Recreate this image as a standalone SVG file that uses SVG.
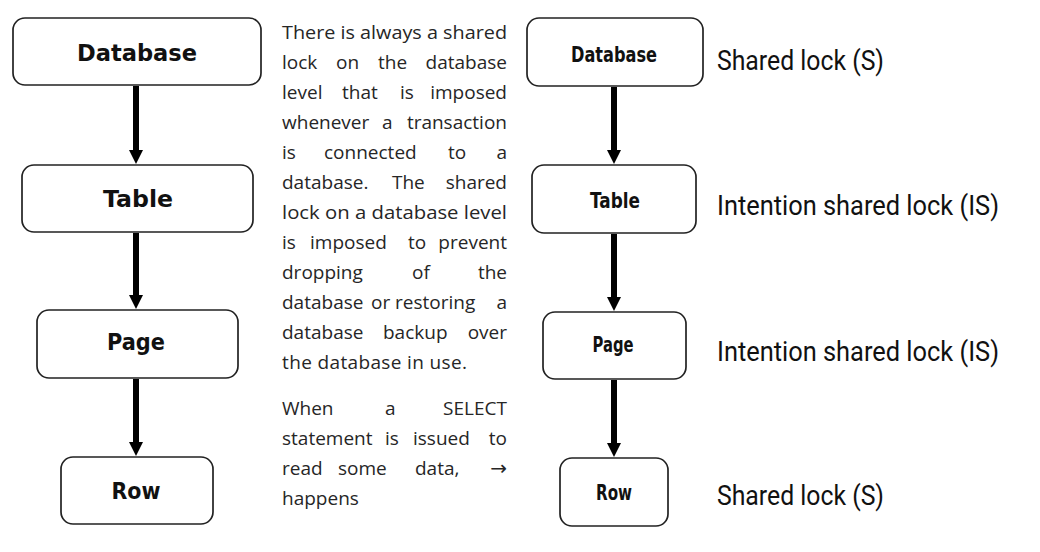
<svg xmlns="http://www.w3.org/2000/svg" width="1040" height="552" viewBox="0 0 1040 552">
<style>
.box{fill:#fff;stroke:#222;stroke-width:1.7}
.lbl{font-family:"DejaVu Sans",sans-serif;font-weight:bold;font-size:23px;fill:#111;text-anchor:middle}
.lbl2{font-family:"DejaVu Sans",sans-serif;font-weight:bold;font-size:22px;fill:#111;text-anchor:middle}
.lock{font-family:Roboto,"DejaVu Sans",sans-serif;font-size:28px;fill:#111}
.para{font-family:"Open Sans",sans-serif;font-size:19px;fill:#262626}
.arr{font-family:"DejaVu Sans",sans-serif;font-size:20px}
.conn{stroke:#000;stroke-width:6;fill:none}
.head{fill:#000}
</style>
<g id="connectors">
<line class="conn" x1="136" y1="86" x2="136" y2="151"/>
<path class="head" d="M129,150 L143,150 L136,164 Z"/>
<line class="conn" x1="136" y1="233" x2="136" y2="296"/>
<path class="head" d="M129,295 L143,295 L136,309 Z"/>
<line class="conn" x1="136" y1="379" x2="136" y2="443"/>
<path class="head" d="M129,442 L143,442 L136,456 Z"/>
<line class="conn" x1="614" y1="87" x2="614" y2="151"/>
<path class="head" d="M607,150 L621,150 L614,164 Z"/>
<line class="conn" x1="614" y1="234" x2="614" y2="298"/>
<path class="head" d="M607,297 L621,297 L614,311 Z"/>
<line class="conn" x1="614" y1="380" x2="614" y2="444"/>
<path class="head" d="M607,443 L621,443 L614,457 Z"/>
</g>
<g id="l-database"><rect class="box" x="13" y="18" width="248" height="67" rx="12"/><text class="lbl" x="137" y="61" textLength="120" lengthAdjust="spacingAndGlyphs">Database</text></g>
<g id="l-table"><rect class="box" x="22" y="165" width="231" height="67" rx="12"/><text class="lbl" x="138" y="207" textLength="70" lengthAdjust="spacingAndGlyphs">Table</text></g>
<g id="l-page"><rect class="box" x="37" y="310" width="201" height="68" rx="12"/><text class="lbl" x="136" y="350" textLength="58" lengthAdjust="spacingAndGlyphs">Page</text></g>
<g id="l-row"><rect class="box" x="61" y="457" width="152" height="67" rx="12"/><text class="lbl" x="136" y="499" textLength="49" lengthAdjust="spacingAndGlyphs">Row</text></g>
<g id="r-database"><rect class="box" x="527" y="18" width="176" height="68" rx="12"/><text class="lbl2" x="614" y="62" textLength="86" lengthAdjust="spacingAndGlyphs">Database</text></g>
<g id="r-table"><rect class="box" x="532" y="165" width="164" height="68" rx="12"/><text class="lbl2" x="615" y="208" textLength="50" lengthAdjust="spacingAndGlyphs">Table</text></g>
<g id="r-page"><rect class="box" x="543" y="312" width="143" height="67" rx="12"/><text class="lbl2" x="613" y="352" textLength="41" lengthAdjust="spacingAndGlyphs">Page</text></g>
<g id="r-row"><rect class="box" x="560" y="458" width="108" height="68" rx="12"/><text class="lbl2" x="614" y="500" textLength="36" lengthAdjust="spacingAndGlyphs">Row</text></g>
<g id="locks">
<text class="lock" x="717" y="70" textLength="167" lengthAdjust="spacingAndGlyphs">Shared lock (S)</text>
<text class="lock" x="717" y="215" textLength="282" lengthAdjust="spacingAndGlyphs">Intention shared lock (IS)</text>
<text class="lock" x="717" y="361" textLength="282" lengthAdjust="spacingAndGlyphs">Intention shared lock (IS)</text>
<text class="lock" x="717" y="505" textLength="167" lengthAdjust="spacingAndGlyphs">Shared lock (S)</text>
</g>
<g id="paragraph" class="para">
<text x="282" y="39" textLength="225" lengthAdjust="spacingAndGlyphs">There is always a shared</text>
<text y="69"><tspan x="282">lock</tspan><tspan x="336">on</tspan><tspan x="378">the</tspan><tspan x="507" text-anchor="end">database</tspan></text>
<text y="99"><tspan x="282">level</tspan><tspan x="342">that</tspan><tspan x="400">is</tspan><tspan x="507" text-anchor="end">imposed</tspan></text>
<text y="129"><tspan x="282">whenever</tspan><tspan x="382">a</tspan><tspan x="507" text-anchor="end">transaction</tspan></text>
<text y="159"><tspan x="282">is</tspan><tspan x="324">connected</tspan><tspan x="448">to</tspan><tspan x="507" text-anchor="end">a</tspan></text>
<text y="189"><tspan x="282">database.</tspan><tspan x="392">The</tspan><tspan x="507" text-anchor="end">shared</tspan></text>
<text x="282" y="219" textLength="225" lengthAdjust="spacingAndGlyphs">lock on a database level</text>
<text y="249"><tspan x="282">is</tspan><tspan x="310">imposed</tspan><tspan x="408">to</tspan><tspan x="507" text-anchor="end">prevent</tspan></text>
<text y="279"><tspan x="282">dropping</tspan><tspan x="412">of</tspan><tspan x="507" text-anchor="end">the</tspan></text>
<text y="309"><tspan x="282">database</tspan><tspan x="371">or</tspan><tspan x="395">restoring</tspan><tspan x="507" text-anchor="end">a</tspan></text>
<text y="339"><tspan x="282">database</tspan><tspan x="383">backup</tspan><tspan x="507" text-anchor="end">over</tspan></text>
<text x="282" y="369" textLength="185" lengthAdjust="spacing">the database in use.</text>
<text y="415"><tspan x="282">When</tspan><tspan x="385">a</tspan><tspan x="507" text-anchor="end">SELECT</tspan></text>
<text y="445"><tspan x="282">statement</tspan><tspan x="385">is</tspan><tspan x="413">issued</tspan><tspan x="507" text-anchor="end">to</tspan></text>
<text y="475"><tspan x="282">read</tspan><tspan x="338">some</tspan><tspan x="415">data,</tspan><tspan class="arr" x="507" text-anchor="end">→</tspan></text>
<text x="282" y="505">happens</text>
</g>
</svg>
